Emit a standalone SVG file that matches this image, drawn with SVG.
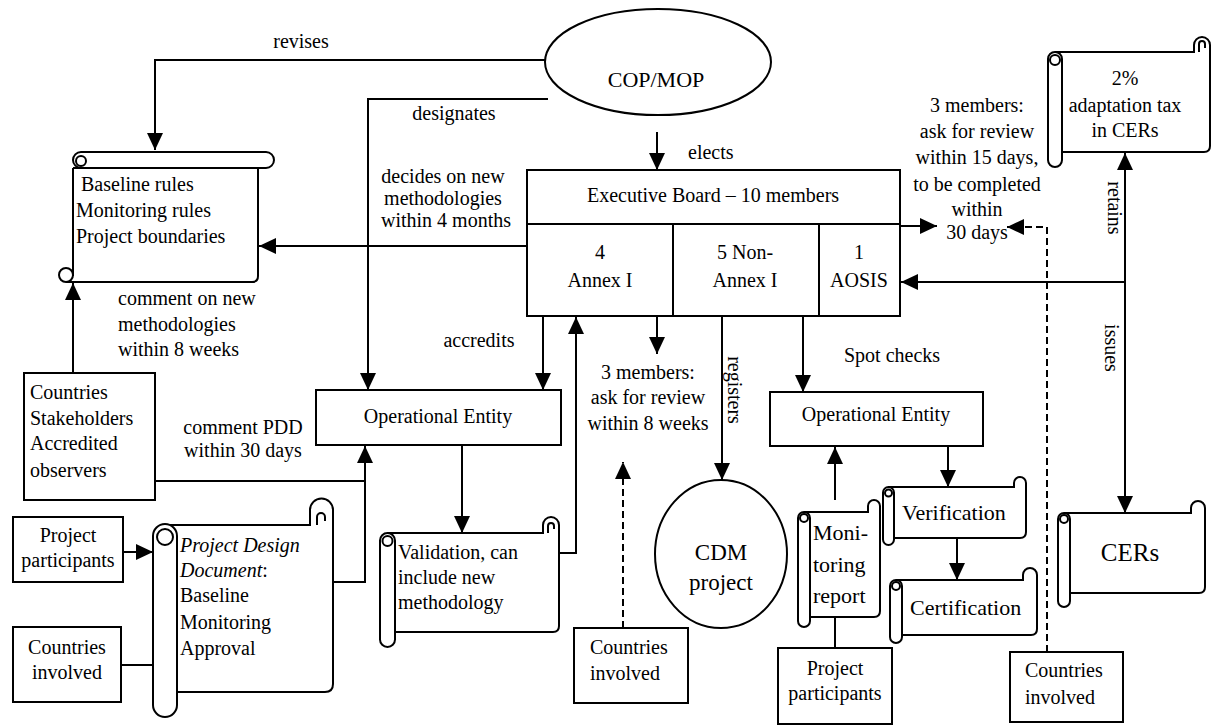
<svg xmlns="http://www.w3.org/2000/svg" width="1218" height="725" viewBox="0 0 1218 725">
<style>
.t{font-family:"Liberation Serif","Times New Roman",serif;font-size:20px;fill:#000}
.c{text-anchor:middle}
.i{font-style:italic}
.box{fill:#fff;stroke:#000;stroke-width:2}
.ln{fill:none;stroke:#000;stroke-width:2}
.dash{stroke-dasharray:7 4}
</style>
<defs>
<marker id="ah" markerUnits="userSpaceOnUse" markerWidth="18" markerHeight="16" refX="17" refY="8" orient="auto">
<path d="M0,0 L17,8 L0,16 z" fill="#000"/>
</marker>
</defs>
<rect width="1218" height="725" fill="#fff"/>

<g id="connectors">
<path class="ln" d="M545 60 H155 V150" marker-end="url(#ah)"/>
<path class="ln" d="M548 99 H368 V390" marker-end="url(#ah)"/>
<path class="ln" d="M657 132 V170" marker-end="url(#ah)"/>
<path class="ln" d="M527 246 H259" marker-end="url(#ah)"/>
<path class="ln" d="M900 226 H937" marker-end="url(#ah)"/>
<path class="ln dash" d="M1047 652 V227 H1007" marker-end="url(#ah)"/>
<path class="ln" d="M1125 282 V153" marker-end="url(#ah)"/>
<path class="ln" d="M1125 282 V513" marker-end="url(#ah)"/>
<path class="ln" d="M1125 282 H901" marker-end="url(#ah)"/>
<path class="ln" d="M73 373 V283" marker-end="url(#ah)"/>
<path class="ln" d="M155 481 H365"/>
<path class="ln" d="M333 582 H365 V446" marker-end="url(#ah)"/>
<path class="ln" d="M543 317 V390" marker-end="url(#ah)"/>
<path class="ln" d="M559 553 H576 V317" marker-end="url(#ah)"/>
<path class="ln" d="M462 446 V533" marker-end="url(#ah)"/>
<path class="ln" d="M657 317 V354" marker-end="url(#ah)"/>
<path class="ln" d="M722 317 V480" marker-end="url(#ah)"/>
<path class="ln dash" d="M623 628 V462" marker-end="url(#ah)"/>
<path class="ln" d="M803 317 V392" marker-end="url(#ah)"/>
<path class="ln" d="M835 500 V447" marker-end="url(#ah)"/>
<path class="ln" d="M948 447 V487" marker-end="url(#ah)"/>
<path class="ln" d="M957 538 V580" marker-end="url(#ah)"/>
<path class="ln" d="M835 617 V648"/>
<path class="ln" d="M123 552 H153" marker-end="url(#ah)"/>
<path class="ln" d="M121 665 H170" marker-end="url(#ah)"/>
</g>

<g id="labels">
<text class="t c" x="301" y="48">revises</text>
<text class="t c" x="454" y="120">designates</text>
<text class="t c" x="443" y="183">decides on new</text>
<text class="t c" x="443" y="205">methodologies</text>
<text class="t c" x="446" y="227">within 4 months</text>
<text class="t" x="688" y="159">elects</text>
<text class="t c" x="977" y="112">3 members:</text>
<text class="t c" x="977" y="138">ask for review</text>
<text class="t c" x="977" y="164">within 15 days,</text>
<text class="t c" x="977" y="191">to be completed</text>
<text class="t c" x="977" y="216">within</text>
<text class="t c" x="977" y="239">30 days</text>
<text class="t c" transform="translate(1115 208) rotate(90)" y="7">retains</text>
<text class="t c" transform="translate(1112 348) rotate(90)" y="7">issues</text>
<text class="t" x="118" y="305">comment on new</text>
<text class="t" x="118" y="331">methodologies</text>
<text class="t" x="118" y="356">within 8 weeks</text>
<text class="t c" x="243" y="434">comment PDD</text>
<text class="t c" x="243" y="457">within 30 days</text>
<text class="t c" x="479" y="347">accredits</text>
<text class="t c" x="648" y="379">3 members:</text>
<text class="t c" x="648" y="404">ask for review</text>
<text class="t c" x="648" y="430">within 8 weeks</text>
<text class="t c" transform="translate(735 390) rotate(90)" y="7">registers</text>
<text class="t c" x="892" y="362">Spot checks</text>
</g>

<g id="cop">
<ellipse class="box" cx="658" cy="62" rx="113" ry="53"/>
<text class="t c" x="656" y="87" style="font-size:22px">COP/MOP</text>
</g>

<g id="baseline-rules">
<rect class="box" x="73" y="152" width="201" height="16" rx="8"/>
<circle class="ln" cx="81" cy="161" r="5"/>
<path class="box" d="M73 168 H258 V276 Q258 282 252 282 H66"/>
<path class="ln" d="M73 168 V276"/>
<circle class="ln" cx="66" cy="275" r="7"/>
<text class="t" x="81" y="191">Baseline rules</text>
<text class="t" x="76" y="217">Monitoring rules</text>
<text class="t" x="76" y="243">Project boundaries</text>
</g>

<g id="executive-board">
<rect class="box" x="527" y="170" width="373" height="146"/>
<path class="ln" d="M527 224 H900 M673 224 V316 M819 224 V316"/>
<text class="t c" x="713" y="202">Executive Board – 10 members</text>
<text class="t c" x="600" y="259">4</text>
<text class="t c" x="600" y="287">Annex I</text>
<text class="t c" x="745" y="259">5 Non-</text>
<text class="t c" x="745" y="287">Annex I</text>
<text class="t c" x="859" y="259">1</text>
<text class="t c" x="859" y="287">AOSIS</text>
</g>

<g id="adaptation-tax">
<path class="box" d="M1055 52 H1194 V45 A8 8 0 0 1 1210 45 V146 Q1210 152 1204 152 H1062"/>
<path class="ln" d="M1199 52 V44 A3 3 0 0 1 1205 44 V48"/>
<rect class="box" x="1048" y="52" width="14" height="115" rx="7"/>
<circle class="ln" cx="1055" cy="60" r="5"/>
<text class="t c" x="1125" y="85">2%</text>
<text class="t c" x="1125" y="112">adaptation tax</text>
<text class="t c" x="1125" y="137">in CERs</text>
</g>

<g id="stakeholders">
<rect class="box" x="24" y="373" width="131" height="127"/>
<text class="t" x="30" y="399">Countries</text>
<text class="t" x="30" y="425">Stakeholders</text>
<text class="t" x="30" y="450">Accredited</text>
<text class="t" x="30" y="477">observers</text>
</g>

<g id="oe1">
<rect class="box" x="316" y="390" width="245" height="55"/>
<text class="t c" x="438" y="423">Operational Entity</text>
</g>

<g id="oe2">
<rect class="box" x="770" y="392" width="213" height="54"/>
<text class="t c" x="876" y="421">Operational Entity</text>
</g>

<g id="pp-left">
<rect class="box" x="13" y="517" width="110" height="65"/>
<text class="t c" x="68" y="542">Project</text>
<text class="t c" x="68" y="567">participants</text>
</g>

<g id="ci-left">
<rect class="box" x="13" y="627" width="108" height="75"/>
<text class="t c" x="67" y="654">Countries</text>
<text class="t c" x="67" y="679">involved</text>
</g>

<g id="pdd">
<path class="box" d="M165 525 H310 V510 A11.5 11.5 0 0 1 333 510 V684 Q333 692 325 692 H177"/>
<path class="ln" d="M317 525 V517 A4 4 0 0 1 325 517 V521"/>
<rect class="box" x="153" y="524" width="24" height="193" rx="12"/>
<circle class="ln" cx="165" cy="537" r="8"/>
<text class="t i" x="180" y="552">Project Design</text>
<text class="t" x="180" y="577"><tspan class="i">Document</tspan>:</text>
<text class="t" x="180" y="602">Baseline</text>
<text class="t" x="180" y="629">Monitoring</text>
<text class="t" x="180" y="655">Approval</text>
</g>

<g id="validation">
<path class="box" d="M388 533 H543 V525 A8 8 0 0 1 559 525 V626 Q559 632 553 632 H395"/>
<path class="ln" d="M548 533 V526 A3 3 0 0 1 554 526 V529"/>
<rect class="box" x="380" y="533" width="15" height="114" rx="7.5"/>
<circle class="ln" cx="387.5" cy="541" r="5"/>
<text class="t" x="398" y="559">Validation, can</text>
<text class="t" x="398" y="584">include new</text>
<text class="t" x="398" y="609">methodology</text>
</g>

<g id="ci-mid">
<rect class="box" x="574" y="628" width="114" height="75"/>
<text class="t" x="590" y="654">Countries</text>
<text class="t" x="590" y="680">involved</text>
</g>

<g id="cdm">
<ellipse class="box" cx="721" cy="554" rx="66" ry="74"/>
<text class="t c" x="721" y="560" style="font-size:23px">CDM</text>
<text class="t c" x="721" y="590" style="font-size:23px">project</text>
</g>

<g id="monitoring">
<path class="box" d="M804 512 H868 V506 A6 6 0 0 1 880 506 V611 Q880 617 874 617 H810"/>
<rect class="box" x="798" y="512" width="12" height="115" rx="6"/>
<circle class="ln" cx="804" cy="518" r="4"/>
<text class="t" x="813" y="540" style="font-size:22px">Moni-</text>
<text class="t" x="813" y="572" style="font-size:22px">toring</text>
<text class="t" x="813" y="603" style="font-size:22px">report</text>
</g>

<g id="pp-right">
<rect class="box" x="778" y="648" width="114" height="76"/>
<text class="t c" x="835" y="675">Project</text>
<text class="t c" x="835" y="700">participants</text>
</g>

<g id="verification">
<path class="box" d="M888 487 H1014 V483 A6 6 0 0 1 1026 483 V532 Q1026 538 1020 538 H894"/>
<rect class="box" x="883" y="487" width="11" height="58" rx="5.5"/>
<circle class="ln" cx="888.5" cy="493" r="3.5"/>
<text class="t" x="902" y="520" style="font-size:22px">Verification</text>
</g>

<g id="certification">
<path class="box" d="M896 580 H1023 V575 A7 7 0 0 1 1037 575 V629 Q1037 635 1031 635 H902"/>
<rect class="box" x="890" y="580" width="12" height="63" rx="6"/>
<circle class="ln" cx="896" cy="586" r="4"/>
<text class="t" x="910" y="615" style="font-size:22px">Certification</text>
</g>

<g id="cers">
<path class="box" d="M1064 513 H1191 V508 A7 7 0 0 1 1205 508 V587 Q1205 593 1199 593 H1070"/>
<rect class="box" x="1058" y="513" width="12" height="94" rx="6"/>
<circle class="ln" cx="1064" cy="519" r="4"/>
<text class="t c" x="1130" y="561" style="font-size:25px">CERs</text>
</g>

<g id="ci-right">
<rect class="box" x="1010" y="652" width="113" height="70"/>
<text class="t" x="1025" y="677">Countries</text>
<text class="t" x="1025" y="704">involved</text>
</g>
</svg>
